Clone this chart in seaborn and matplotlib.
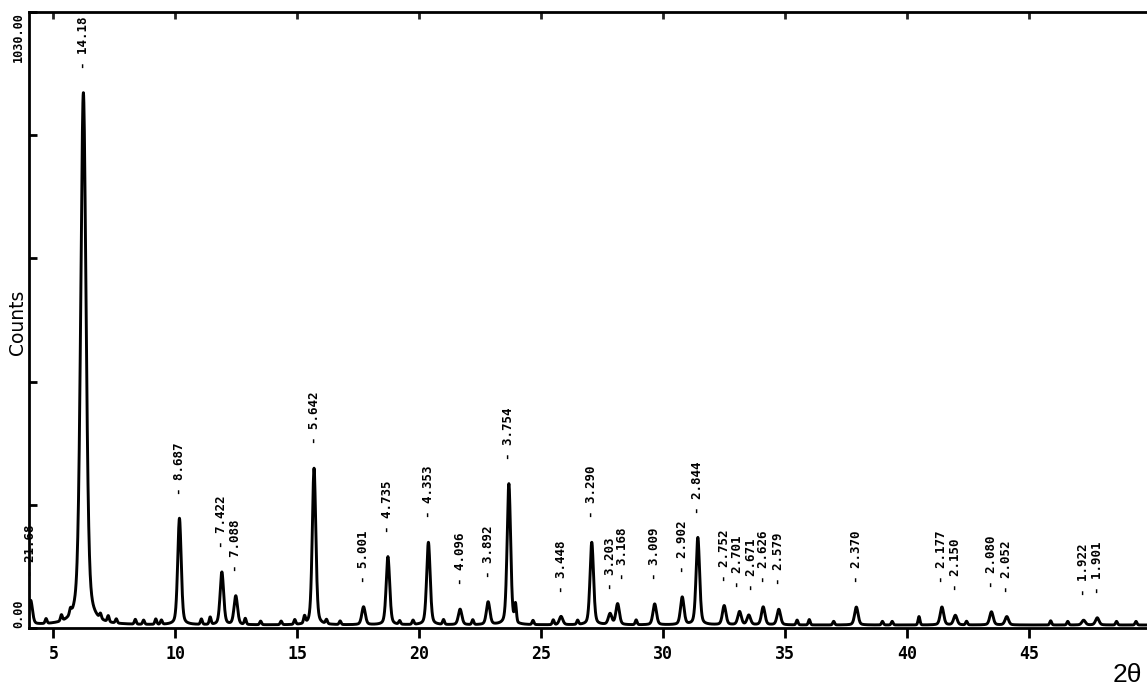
import numpy as np
import pandas as pd
import matplotlib
matplotlib.use("Agg")
import matplotlib.pyplot as plt
import seaborn as sns

d_labels = ["21.68", "14.18", "8.687", "7.422", "7.088", "5.642", "5.001", "4.735",
            "4.353", "4.096", "3.892", "3.754", "3.448", "3.290", "3.203", "3.168",
            "3.009", "2.902", "2.844", "2.752", "2.701", "2.671", "2.626", "2.579",
            "2.370", "2.177", "2.150", "2.080", "2.052", "1.922", "1.901"]
peak_two_theta = [4.07, 6.23, 10.17, 11.91, 12.48, 15.69, 17.72, 18.72,
                  20.38, 21.68, 22.83, 23.68, 25.82, 27.08, 27.83, 28.14,
                  29.66, 30.79, 31.43, 32.51, 33.14, 33.52, 34.11, 34.75,
                  37.93, 41.44, 41.99, 43.47, 44.10, 47.25, 47.81]
peak_counts = [40, 890, 178, 88, 48, 262, 30, 114,
               138, 26, 38, 236, 14, 138, 18, 35,
               35, 46, 146, 32, 22, 16, 30, 26,
               30, 30, 16, 22, 14, 8, 12]
# small unlabelled bumps along the baseline
minor_two_theta = [4.7, 5.33, 5.7, 6.93, 7.25, 7.58, 8.36, 8.7, 9.2, 9.43,
                   11.07, 11.43, 12.87, 13.5, 14.34, 14.9, 15.3, 16.2, 16.76, 19.2,
                   19.75, 21.0, 22.2, 23.95, 24.67, 25.5, 26.5, 28.9, 35.5, 36.0,
                   37.0, 39.0, 39.4, 40.5, 42.45, 45.9, 46.6, 48.6, 49.4]
minor_counts = [8, 10, 9, 8, 10, 7, 8, 7, 9, 7,
                9, 12, 10, 6, 6, 8, 12, 7, 6, 6,
                7, 8, 8, 30, 7, 8, 7, 8, 8, 9,
                6, 6, 6, 14, 6, 7, 6, 6, 6]
background = 5.0
y_tick_values = [0, 206, 412, 618, 824, 1030]
y_tick_labels = ["0.00", "", "", "", "", "1030.00"]
x_tick_values = [5, 10, 15, 20, 25, 30, 35, 40, 45]

# small horizontal nudges (pixels) for labels that would sit on top of each other
label_nudge = {"3.168": 5, "2.701": -2, "2.671": 3}


def pv(x, c, h, w, eta=0.35):
    t = (x - c) / w
    g = np.exp(-4 * np.log(2) * t ** 2)
    lo = 1.0 / (1.0 + 4 * t ** 2)
    return h * (eta * lo + (1 - eta) * g)


x = np.arange(4.0, 50.0, 0.01)
y = np.full_like(x, background)
for c, h in zip(peak_two_theta, peak_counts):
    if h > 500:
        y += pv(x, c, h, 0.26, eta=0.4)
    else:
        y += pv(x, c, h, 0.17)
for c, h in zip(minor_two_theta, minor_counts):
    y += pv(x, c, h, 0.09, eta=0.1)

df = pd.DataFrame({"two_theta": x, "counts": y})

sns.set_theme(style="white")
plt.rcParams["font.family"] = ["DejaVu Sans Mono", "DejaVu Sans"]

W, H = 1147, 689
fig = plt.figure(figsize=(W / 100, H / 100), dpi=100)
ax = fig.add_axes([29 / W, 1 - 628 / H, 1 - 29 / W, (628 - 12) / H])

sns.lineplot(data=df, x="two_theta", y="counts", ax=ax, color="black",
             lw=2.1, estimator=None, sort=False)

ax.set_xlim(4.0, 49.85)
ax.set_ylim(0, 1030)
ax.set_xlabel("")
ax.set_ylabel("")

for side in ["left", "top", "bottom"]:
    ax.spines[side].set_visible(True)
    ax.spines[side].set_linewidth(2)
    ax.spines[side].set_color("black")
ax.spines["right"].set_visible(False)

ax.set_xticks(x_tick_values)
ax.set_xticklabels([str(v) for v in x_tick_values], fontsize=12,
                   fontweight="bold", family="DejaVu Sans Mono")
ax.tick_params(axis="x", direction="out", length=7, width=2, pad=5,
               bottom=True, top=False, colors="black")

sec = ax.secondary_xaxis("top")
sec.set_xticks(x_tick_values)
sec.tick_params(direction="in", length=5, width=2, labeltop=False)
sec.spines["top"].set_visible(False)

ax.set_yticks(y_tick_values)
ax.set_yticklabels(y_tick_labels, fontsize=8.5, fontweight="bold",
                   family="DejaVu Sans Mono", rotation=90)
ax.tick_params(axis="y", direction="in", length=6, width=2, pad=3,
               left=True, colors="black")
tl = ax.get_yticklabels()
tl[0].set_va("bottom")
tl[-1].set_va("top")

for lab, c, h in zip(d_labels, peak_two_theta, peak_counts):
    ax.annotate("- " + lab, xy=(c, h + background),
                xytext=(label_nudge.get(lab, 0), 24),
                textcoords="offset pixels", rotation=90, ha="center",
                va="bottom", fontsize=9, fontweight="bold",
                family="DejaVu Sans Mono", color="black")

fig.text(18 / W, 1 - 322 / H, "Counts", rotation=90, ha="center",
         va="center", fontsize=13.5, family="DejaVu Sans", color="black")
fig.text(1127 / W, 1 - 675 / H, "2θ", ha="center", va="center",
         fontsize=19, family="Liberation Sans", color="black")

fig.savefig("out.png", dpi=100, facecolor="white")
